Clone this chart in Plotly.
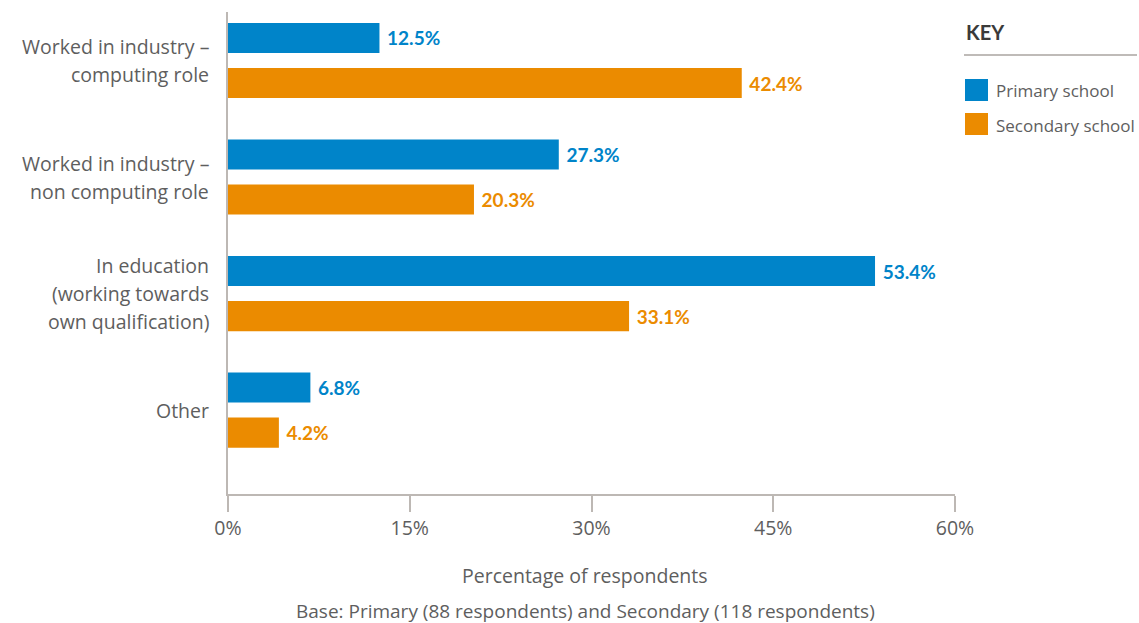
import plotly.graph_objects as go

categories = [
    "Worked in industry –<br>computing role",
    "Worked in industry –<br>non computing role",
    "In education<br>(working towards<br>own qualification)",
    "Other",
]
series_names = ["Primary school", "Secondary school"]
primary = [12.5, 27.3, 53.4, 6.8]
secondary = [42.4, 20.3, 33.1, 4.2]
colors = ["#0084C9", "#EB8B00"]
x_ticks = [0, 15, 30, 45, 60]
x_ticklabels = ["0%", "15%", "30%", "45%", "60%"]
x_title = "Percentage of respondents"
base_note = "Base: Primary (88 respondents) and Secondary (118 respondents)"
key_title = "KEY"

FONT = "Open Sans"
BFONT = "Lato"
GREY = "#5e5e5e"
AXIS = "#bdb8b4"

W, H = 1139, 623
L, R, T, B = 228, 184, 12, 129
pw, ph = W - L - R, H - T - B


def px_x(px):
    return (px - L) / pw


def px_y(py):
    return (H - B - py) / ph


fig = go.Figure()
for name, vals, col in zip(series_names, [primary, secondary], colors):
    fig.add_trace(go.Bar(
        name=name, y=categories, x=vals, orientation="h",
        marker=dict(color=col, line=dict(width=0)),
        text=[f"\u00a0{v:.1f}%" for v in vals],
        textposition="outside",
        outsidetextfont=dict(family=BFONT, size=19, color=col, weight="bold"),
        cliponaxis=False,
        showlegend=False,
        hoverinfo="skip",
    ))

annotations = []
for cat in categories:
    lines = cat.split("<br>")
    n = len(lines)
    for i, ln in enumerate(lines):
        annotations.append(dict(
            xref="paper", yref="y", x=0, y=cat, text=ln, showarrow=False,
            xanchor="right", yanchor="middle", xshift=-17,
            yshift=((n - 1) / 2 - i) * 28,
            font=dict(family=FONT, size=19.5, color=GREY),
        ))

annotations.append(dict(
    xref="paper", yref="paper", x=px_x(585), y=px_y(575), text=x_title,
    showarrow=False, xanchor="center", yanchor="middle",
    font=dict(family=FONT, size=19.5, color=GREY)))
annotations.append(dict(
    xref="paper", yref="paper", x=px_x(585), y=px_y(611), text=base_note,
    showarrow=False, xanchor="center", yanchor="middle",
    font=dict(family=FONT, size=19, color=GREY)))

annotations.append(dict(
    xref="paper", yref="paper", x=px_x(964), y=px_y(32), text=f"<b>{key_title}</b>",
    showarrow=False, xanchor="left", yanchor="middle",
    font=dict(family=BFONT, size=20, color="#3a3a3a")))
shapes = [dict(type="line", xref="paper", yref="paper",
               x0=px_x(964), x1=px_x(1137), y0=px_y(55), y1=px_y(55),
               line=dict(color="#aaa5a1", width=1.5))]
for i, (name, col) in enumerate(zip(series_names, colors)):
    cy = 90 + i * 34
    shapes.append(dict(type="rect", xref="paper", yref="paper",
                       x0=px_x(965), x1=px_x(988), y0=px_y(cy + 11), y1=px_y(cy - 11),
                       fillcolor=col, line=dict(width=0)))
    annotations.append(dict(
        xref="paper", yref="paper", x=px_x(994), y=px_y(cy + 1), text=name,
        showarrow=False, xanchor="left", yanchor="middle",
        font=dict(family=FONT, size=17, color=GREY)))

fig.update_layout(
    width=W, height=H,
    margin=dict(l=L, r=R, t=T, b=B, pad=0),
    paper_bgcolor="white", plot_bgcolor="white",
    barmode="group", bargap=0.226, bargroupgap=0.333,
    font=dict(family=FONT, color=GREY),
    xaxis=dict(
        range=[0, 60], tickvals=x_ticks, ticktext=x_ticklabels,
        showgrid=False, zeroline=False, showline=True, linecolor=AXIS, linewidth=1.5,
        ticks="outside", ticklen=16, tickcolor=AXIS, tickwidth=1.5,
        tickfont=dict(family=FONT, size=19.5, color=GREY),
    ),
    yaxis=dict(
        type="category", categoryorder="array", categoryarray=categories,
        range=[3.72, -0.416], showticklabels=False, showgrid=False, zeroline=False,
        showline=True, linecolor=AXIS, linewidth=1.5, ticks="",
    ),
    annotations=annotations, shapes=shapes,
)

fig.write_html("out.html", config={"displayModeBar": False},
               post_script="document.body.style.margin='0';")
